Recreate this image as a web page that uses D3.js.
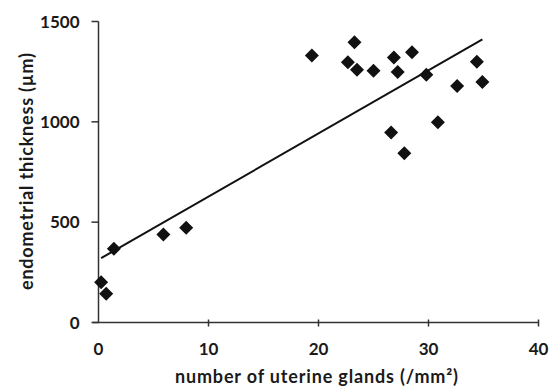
<!DOCTYPE html>
<html>
<head>
<meta charset="utf-8">
<script src="https://cdn.jsdelivr.net/npm/d3@7"></script>
<style>
  body { margin: 0; background: #fff; }
  text { font-family: Lato, "Open Sans", sans-serif; font-weight: bold; fill: #1a1a1a; }
</style>
</head>
<body>
<svg id="chart" width="552" height="389"></svg>
<script>
// glands per mm2 vs endometrial thickness (um)
const glands = [0.24, 0.7, 1.4, 5.9, 7.97, 19.4, 22.67, 23.27, 23.5, 25.0,
  26.6, 26.85, 27.2, 27.8, 28.5, 29.8, 30.85, 32.6, 34.4, 34.9]
const thickness = [200, 143, 368, 438, 472, 1331, 1297, 1396, 1260, 1255,
  947, 1320, 1248, 843, 1347, 1235, 998, 1178, 1300, 1198]
const xTicks = [0, 10, 20, 30, 40]
const yTicks = [0, 500, 1000, 1500]

const data = glands.map((g, i) => ({ x: g, y: thickness[i] }))

const svg = d3.select('#chart')
const x = d3.scaleLinear().domain([0, 40]).range([98.5, 538.5])
const y = d3.scaleLinear().domain([0, 1500]).range([322.5, 21.5])

// axes
svg.append('line')
  .attr('x1', x(0)).attr('x2', x(0))
  .attr('y1', y(0)).attr('y2', y(1500))
  .attr('stroke', '#333').attr('stroke-width', 1.5)
svg.append('line')
  .attr('x1', x(0) - 6).attr('x2', x(40))
  .attr('y1', y(0)).attr('y2', y(0))
  .attr('stroke', '#333').attr('stroke-width', 1.5)

svg.selectAll('.ytick')
  .data(yTicks)
  .enter()
  .append('line')
  .attr('x1', x(0) - 7).attr('x2', x(0))
  .attr('y1', d => y(d)).attr('y2', d => y(d))
  .attr('stroke', '#333').attr('stroke-width', 1.5)

svg.selectAll('.xtick')
  .data(xTicks.slice(1))
  .enter()
  .append('line')
  .attr('x1', d => x(d)).attr('x2', d => x(d))
  .attr('y1', y(0) - 3).attr('y2', y(0) + 4)
  .attr('stroke', '#333').attr('stroke-width', 1.5)

svg.selectAll('.ylab')
  .data(yTicks)
  .enter()
  .append('text')
  .attr('x', x(0) - 19)
  .attr('y', d => y(d) + 6)
  .attr('text-anchor', 'end')
  .attr('font-size', 17)
  .text(d => d)

svg.selectAll('.xlab')
  .data(xTicks)
  .enter()
  .append('text')
  .attr('x', d => x(d))
  .attr('y', 355)
  .attr('text-anchor', 'middle')
  .attr('font-size', 17)
  .text(d => d)

svg.append('text')
  .attr('x', 316.5)
  .attr('y', 383)
  .attr('text-anchor', 'middle')
  .attr('font-size', 18)
  .attr('textLength', 283)
  .attr('lengthAdjust', 'spacing')
  .text('number of uterine glands (/mm²)')

svg.append('text')
  .attr('transform', 'translate(33,171.5) rotate(-90)')
  .attr('text-anchor', 'middle')
  .attr('font-size', 18)
  .attr('textLength', 237)
  .attr('lengthAdjust', 'spacing')
  .text('endometrial thickness (µm)')

// least squares trendline
const mx = d3.mean(glands)
const my = d3.mean(thickness)
const slope = d3.sum(data, d => (d.x - mx) * (d.y - my)) / d3.sum(data, d => (d.x - mx) ** 2)
const icpt = my - slope * mx
const [x0, x1] = d3.extent(glands)
svg.append('line')
  .attr('x1', x(x0)).attr('y1', y(icpt + slope * x0))
  .attr('x2', x(x1)).attr('y2', y(icpt + slope * x1))
  .attr('stroke', '#111').attr('stroke-width', 2)

// diamond markers
const diamond = d3.symbol().type(d3.symbolSquare).size(98)
svg.selectAll('.pt')
  .data(data)
  .enter()
  .append('path')
  .attr('d', diamond)
  .attr('transform', d => 'translate(' + x(d.x) + ',' + y(d.y) + ') rotate(45)')
  .attr('fill', '#111')
</script>
</body>
</html>
